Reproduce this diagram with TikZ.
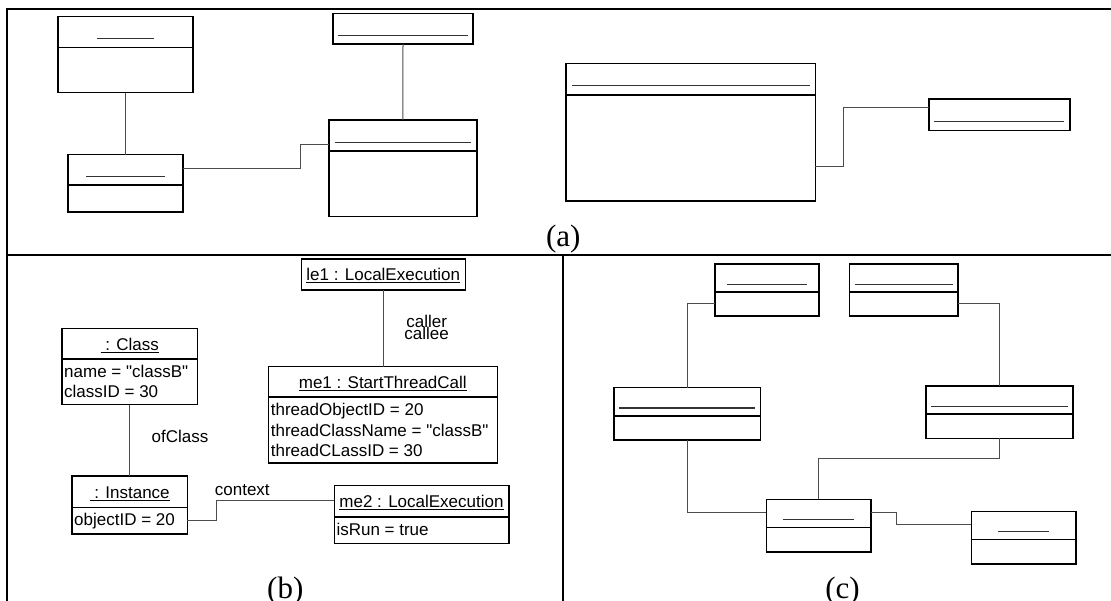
\documentclass[tikz,border=0pt]{standalone}
\usepackage{fontspec}
\setmainfont{Liberation Serif}
\newfontfamily\umlfont{Liberation Sans}

% class box given by its corners (x1,y1) and (x2,y2), y measured downwards
\newcommand\umlcls[5]{\node[umlbox, minimum width={(#4)-(#2)}, minimum height={(#5)-(#3)}] (#1) at (#2,#3) {};}
% compartment separator of a class box at height y
\newcommand\umlsep[2]{\draw[cmp] (#1.west |- 0,#2) -- (#1.east |- 0,#2);}

\begin{document}
\begin{tikzpicture}[x=1pt,y=-1pt,
  panelframe/.style={line width=2.2pt, line cap=rect},
  umlbox/.style={draw, line width=1.6pt, inner sep=0pt, outer sep=0pt, anchor=north west},
  cmp/.style={line width=1.6pt},
  blankname/.style={line width=1pt, black!80},
  conn/.style={line width=1pt, black!70},
  uml/.style={font=\umlfont\fontsize{17}{20}\selectfont, inner sep=0pt},
  clstitle/.style={uml, anchor=base},
  attr/.style={uml, anchor=base west},
  lbl/.style={uml, anchor=base},
  subcap/.style={font=\fontsize{31}{31}\selectfont, inner sep=0pt, anchor=base}
]
\useasboundingbox (0,0) rectangle (1111,601);

% ---------- frame ----------
\draw[panelframe] (1111,9) -- (7,9) -- (7,601);
\draw[panelframe] (7,255) -- (1111,255);
\draw[panelframe] (563,255) -- (563,601);

% ---------- (a) ----------
\umlcls{a1}{58}{16.7}{193}{92.7}   \umlsep{a1}{47.7}
\draw[blankname] (97,39) -- (154,39);
\umlcls{a2}{68}{154.7}{183}{212}   \umlsep{a2}{185}
\draw[blankname] (86,176.7) -- (165,176.7);
\umlcls{a3}{333}{13.7}{473}{44}
\draw[blankname] (338,35.3) -- (468,35.3);
\umlcls{a4}{329}{120}{476.7}{216.7} \umlsep{a4}{151}
\draw[blankname] (335,142.7) -- (471,142.7);
\umlcls{a5}{565.7}{63.7}{815.3}{201} \umlsep{a5}{95}
\draw[blankname] (571.7,86) -- (810,86);
\umlcls{a6}{929}{99.3}{1070}{130.7}
\draw[blankname] (934.3,122) -- (1064.3,122);

\draw[conn] (a1.south) -- (a2.north);
\draw[conn] (a3.south) -- (a4.north);
\draw[conn] (a2.east |- 0,169) -- (300.7,169) |- (a4.west |- 0,144.3);
\draw[conn] (a5.east |- 0,166.3) -- (843.7,166.3) |- (a6.west |- 0,107.7);

\node[subcap] (capa) at (563.3,247) {(a)};

% ---------- (b) ----------
\umlcls{le1}{301.3}{259.3}{465.3}{290}
\node[clstitle] (le1t) at (383.3,280.7) {\underline{le1 : LocalExecution}};

\umlcls{me1}{268.3}{366.7}{497.3}{463} \umlsep{me1}{397.3}
\node[clstitle] (me1t) at (382.8,388.3) {\underline{me1 : StartThreadCall}};
\node[attr] (me1a) at (270.7,416) {threadObjectID = 20};
\node[attr] (me1b) at (270.7,436.3) {threadClassName = "classB"};
\node[attr] (me1c) at (270.7,456.7) {threadCLassID = 30};

\umlcls{cls}{62}{328.7}{197.3}{404.7} \umlsep{cls}{359}
\node[clstitle] (clst) at (129.7,350.3) {\underline{\ : Class}};
\node[attr] (clsa) at (64,377.7) {name = "classB"};
\node[attr] (clsb) at (64,397.7) {classID = 30};

\umlcls{inst}{72}{476}{187.3}{534} \umlsep{inst}{507.3}
\node[clstitle] (instt) at (129.7,498.3) {\underline{\ : Instance}};
\node[attr] (insta) at (74,525.7) {objectID = 20};

\umlcls{me2}{334.3}{485.3}{508.7}{543.3} \umlsep{me2}{516.7}
\node[clstitle] (me2t) at (421.5,507.3) {\underline{me2 : LocalExecution}};
\node[attr] (me2a) at (336.3,535) {isRun = true};

\draw[conn] (le1.south) -- (le1.south |- me1.north);
\draw[conn] (cls.south) -- (inst.north);
\draw[conn] (inst.east |- 0,520) -- (216,520) |- (me2.west |- 0,500.7);

\node[lbl] (caller) at (426.7,327.3) {caller};
\node[lbl] (callee) at (426.7,340) {callee};
\node[lbl] (ofcls) at (180,442.7) {ofClass};
\node[lbl] (ctx) at (242.3,495.7) {context};

\node[subcap] (capb) at (285.3,598) {(b)};

% ---------- (c) ----------
\umlcls{c1}{714.7}{264}{818.7}{316.3}  \umlsep{c1}{292.3}
\draw[blankname] (727,284.3) -- (806.7,284.3);
\umlcls{c2}{849.3}{264}{957.7}{316.3}  \umlsep{c2}{292.3}
\draw[blankname] (854.7,284.3) -- (952.7,284.3);
\umlcls{c3}{613.7}{387.7}{760.3}{440}  \umlsep{c3}{416}
\draw[blankname] (618.7,408) -- (755.3,408);
\umlcls{c4}{925.7}{386}{1072.7}{438.3} \umlsep{c4}{414}
\draw[blankname] (931,406.3) -- (1067.7,406.3);
\umlcls{c5}{766.3}{499.3}{871}{551.7}  \umlsep{c5}{527.3}
\draw[blankname] (783.3,519.7) -- (854.3,519.7);
\umlcls{c6}{971.3}{511.3}{1075.7}{563.7} \umlsep{c6}{539.3}
\draw[blankname] (998,531.3) -- (1049,531.3);

\draw[conn] (c1.west |- 0,303.3) -| (c3.north);
\draw[conn] (c2.east |- 0,303.3) -| (c4.north);
\draw[conn] (c3.south) |- (c5.west |- 0,512.3);
\draw[conn] (c4.south) -- (c4.south |- 0,458.3) -| (c5.north);
\draw[conn] (c5.east |- 0,512.3) -- (896.7,512.3) |- (c6.west |- 0,524.3);

\node[subcap] (capc) at (842.5,598) {(c)};
\end{tikzpicture}
\end{document}
